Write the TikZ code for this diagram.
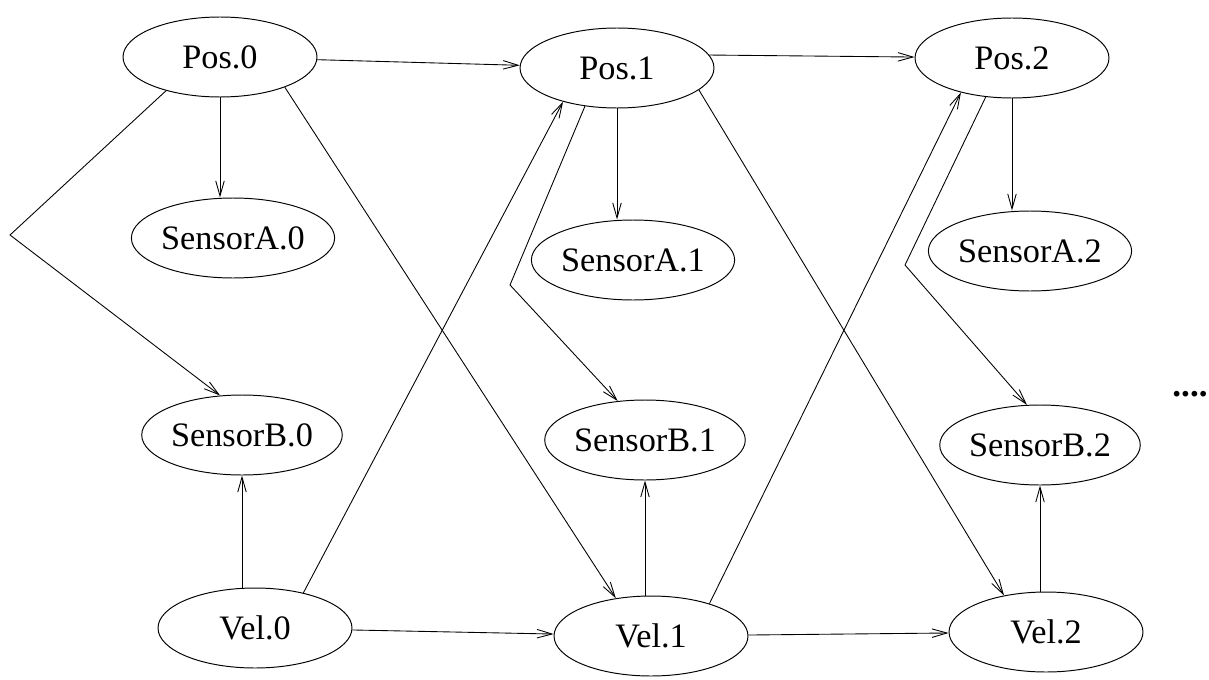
\documentclass[tikz,border=0pt]{standalone}
\usepackage{fontspec}
\setmainfont{Liberation Serif}
\usetikzlibrary{arrows.meta,shapes.geometric}

\tikzset{
  zustand/.style={draw, ellipse, line width=0.55pt, inner sep=0pt,
    minimum width=3.88cm, minimum height=1.6cm,
    font=\fontsize{19.5}{23}\selectfont},
  pfeil/.style={line width=0.5pt, -{Straight Barb[length=3mm,width=1.7mm]}}
}

\begin{document}
\begin{tikzpicture}[x=0.02cm, y=-0.02cm]
\useasboundingbox (0,0) rectangle (1209,679);

%SPALTE NR. 0 (von links)
\node[zustand] (pos0) at (220,57) {Pos.0};
\node[zustand] (sa0) at (233,238) {SensorA.0};
\node[zustand] (sb0) at (242,435) {SensorB.0};
\node[zustand] (vel0) at (255,628) {Vel.0};

%SPALTE NR. 1 (von links)
\node[zustand] (pos1) at (617,68) {Pos.1};
\node[zustand] (sa1) at (633,260) {SensorA.1};
\node[zustand] (sb1) at (645,440) {SensorB.1};
\node[zustand] (vel1) at (651,636) {Vel.1};

%SPALTE NR. 2 (von links)
\node[zustand] (pos2) at (1012,58) {Pos.2};
\node[zustand] (sa2) at (1030,251) {SensorA.2};
\node[zustand] (sb2) at (1040,445) {SensorB.2};
\node[zustand] (vel2) at (1046,632) {Vel.2};

\node[anchor=base, font=\fontsize{20}{23}\selectfont\bfseries] (weiter) at (1190,396) {....};

%KNICKPUNKTE
\coordinate (k0) at (10,235);
\coordinate (k1) at (510,285);
\coordinate (k2) at (905,265);

%PFEILE ZWISCHEN DEN ZEITSCHRITTEN
\draw[pfeil] (pos0) -- (pos1);
\draw[pfeil] (pos1.8) -- (pos2);
\draw[pfeil] (vel0) -- (vel1);
\draw[pfeil] (vel1) -- (vel2);

%PFEILE ZU DEN SENSOREN
\draw[pfeil] (pos0.south) -- (pos0.south |- sa0.north);
\draw[pfeil] (pos1.south) -- (pos1.south |- sa1.north);
\draw[pfeil] (pos2.south) -- (pos2.south |- sa2.north);
\draw[pfeil] (sb0.south |- vel0.north) -- (sb0.south);
\draw[pfeil] (sb1.south |- vel1.north) -- (sb1.south);
\draw[pfeil] (sb2.south |- vel2.north) -- (sb2.south);
\draw[pfeil] (pos0.212) -- (k0) -- (sb0.119);
\draw[pfeil] (pos1.230) -- (k1) -- (sb1.125);
\draw[pfeil] (pos2.236) -- (k2) -- (sb2.108);

%DIAGONALE PFEILE
\draw[pfeil] (pos0.-25) -- (vel1.133);
\draw[pfeil] (pos1.-15) -- (vel2.139);
\draw[pfeil] (vel0.36) -- (pos1.-148);
\draw[pfeil] (vel1.29) -- (pos2.-146);

\end{tikzpicture}
\end{document}
